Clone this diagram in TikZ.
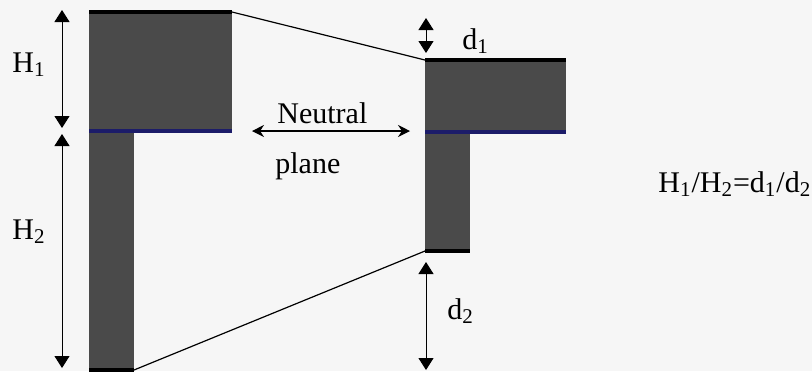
\documentclass[tikz,border=0pt]{standalone}
\usepackage{fontspec}
\setmainfont{Liberation Serif}
\usetikzlibrary{arrows.meta}
\definecolor{beamgray}{RGB}{74,74,74}
\definecolor{nblue}{RGB}{28,28,105}
\definecolor{paper}{RGB}{246,246,246}
\begin{document}
\begin{tikzpicture}[x=0.5pt,y=-0.5pt,
  dim/.style={{Triangle[length=6pt,width=7.5pt]}-{Triangle[length=6pt,width=7.5pt]},line width=0.5pt},
  plane/.style={{Stealth[length=6pt,width=6pt]}-{Stealth[length=6pt,width=6pt]},line width=0.6pt},
  beam/.style={fill=beamgray},
  skin/.style={line width=1.6pt,black},
  mid/.style={line width=1.8pt,nblue},
  lbl/.style={font=\fontsize{15}{17}\selectfont,inner sep=0pt,anchor=base west}]
\fill[paper] (0,0) rectangle (812,371);
% wide section
\fill[beam] (89,12) rectangle (232,131);
\fill[beam] (89,131) rectangle (134,371);
\draw[skin] (89,12) -- (232,12);
\draw[skin] (89,370) -- (134,370);
\draw[mid] (89,131) -- (232,131);
% narrow section
\fill[beam] (425,60) rectangle (566,132);
\fill[beam] (425,132) rectangle (470,251);
\draw[skin] (425,60) -- (566,60);
\draw[skin] (425,251) -- (470,251);
\draw[mid] (425,132) -- (566,132);
% corners
\coordinate (LT) at (232,12);
\coordinate (LB) at (134,370);
\coordinate (RT) at (425,60);
\coordinate (RB) at (425,251);
\draw[line width=0.6pt] (LT) -- (RT);
\draw[line width=0.6pt] (LB) -- (RB);
% dimensions
\coordinate (H1a) at (62,10);  \coordinate (H1b) at (62,128);
\coordinate (H2a) at (62,134); \coordinate (H2b) at (62,368);
\coordinate (D1a) at (426,18); \coordinate (D1b) at (426,53);
\coordinate (D2a) at (426,262); \coordinate (D2b) at (426,370);
\coordinate (NPa) at (252,131); \coordinate (NPb) at (410,131);
\draw[dim] (H1a) -- (H1b);
\draw[dim] (H2a) -- (H2b);
\draw[dim] (D1a) -- (D1b);
\draw[dim] (D2a) -- (D2b);
\draw[plane] (NPa) -- (NPb);
% labels
\node[lbl] (h1) at (12,72) {H\textsubscript{1}};
\node[lbl] (h2) at (12,239) {H\textsubscript{2}};
\node[lbl] (d1) at (462,49) {d\textsubscript{1}};
\node[lbl] (d2) at (447,319) {d\textsubscript{2}};
\node[lbl] (np1) at (277,123) {Neutral};
\node[lbl] (np2) at (275,173) {plane};
\node[lbl] (ratio) at (658,192) {H\textsubscript{1}/H\textsubscript{2}=d\textsubscript{1}/d\textsubscript{2}};
\end{tikzpicture}
\end{document}
